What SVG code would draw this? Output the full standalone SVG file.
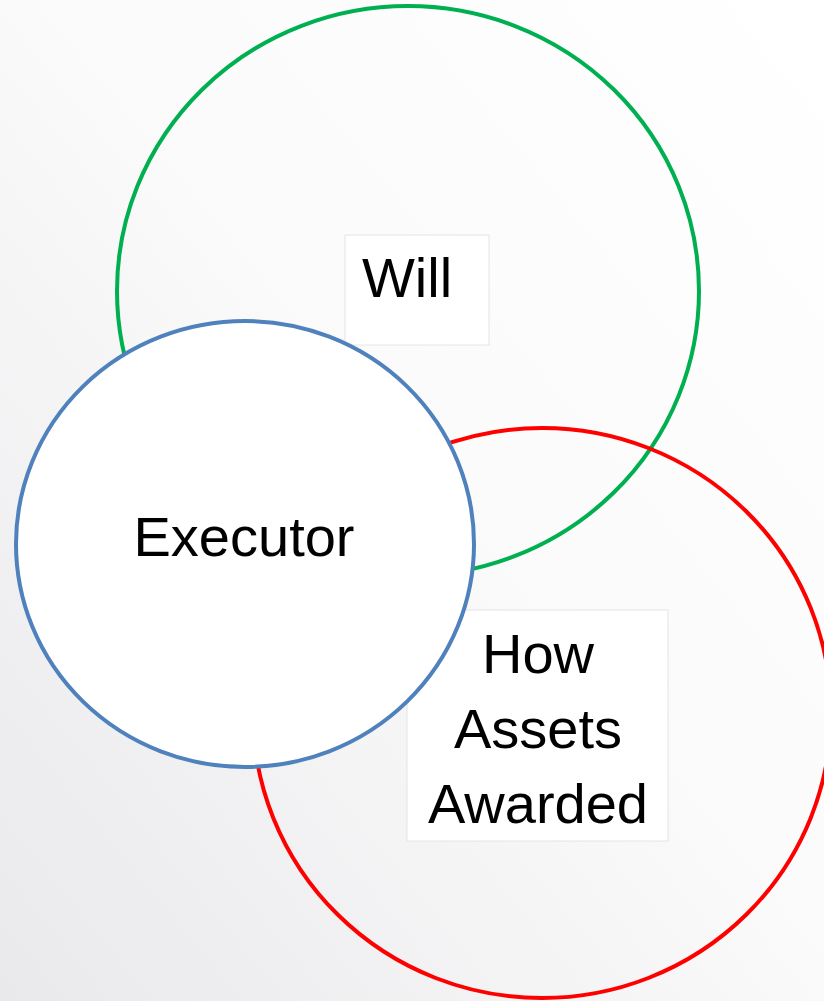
<svg xmlns="http://www.w3.org/2000/svg" width="824" height="1001" viewBox="0 0 824 1001">
<style>
.lbl{font-family:"Liberation Sans",Arial,sans-serif;font-size:56px;fill:#000;text-anchor:middle}
.box{fill:#fff;stroke:#e4e4e4;stroke-width:1}
.ring{stroke-width:4}
</style>
<defs>
<linearGradient id="bg" x1="1" y1="0" x2="0" y2="1">
<stop offset="0" stop-color="#ffffff"/>
<stop offset="0.45" stop-color="#fbfbfc"/>
<stop offset="1" stop-color="#e9e9eb"/>
</linearGradient>
</defs>
<rect width="824" height="1001" fill="url(#bg)"/>
<g id="will">
<ellipse class="ring" cx="408" cy="291" rx="291" ry="285" fill="none" stroke="#00b050"/>
<rect class="box" x="345" y="235" width="144" height="110"/>
<text class="lbl" x="407" y="297">Will</text>
</g>
<g id="assets">
<ellipse class="ring" cx="542" cy="713" rx="289" ry="285" fill="none" stroke="#ff0000"/>
<rect class="box" x="407" y="610" width="261" height="231"/>
<text class="lbl" x="538" y="673">How</text>
<text class="lbl" x="538" y="748">Assets</text>
<text class="lbl" x="538" y="823">Awarded</text>
</g>
<g id="executor">
<ellipse class="ring" cx="245" cy="544" rx="229" ry="223" fill="#fff" stroke="#4f81bd"/>
<text class="lbl" x="244" y="556">Executor</text>
</g>
<g id="connectors"/>
</svg>
